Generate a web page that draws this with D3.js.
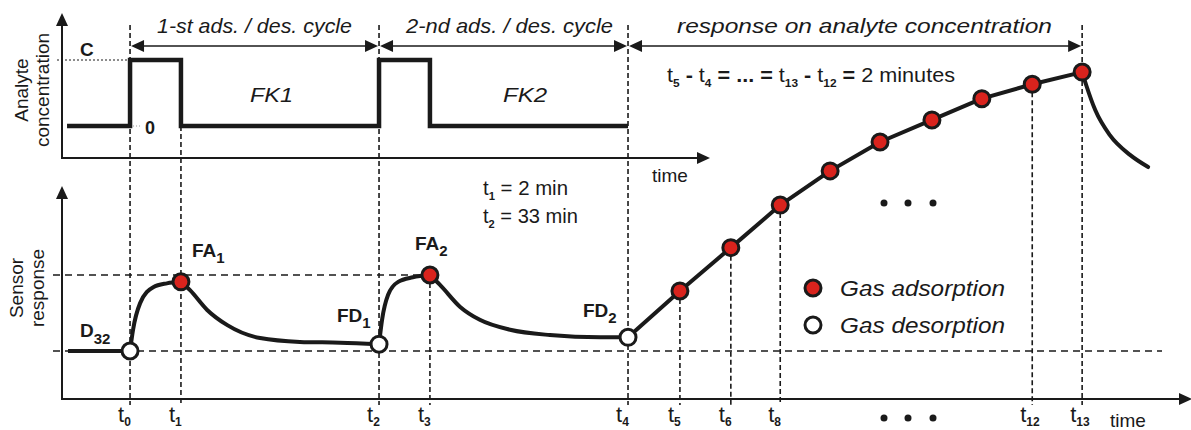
<!DOCTYPE html>
<html><head><meta charset="utf-8">
<script src="https://cdn.jsdelivr.net/npm/d3@7"></script>
<style>body{margin:0;background:#fff}svg{display:block;font-family:"Liberation Sans",Arial,sans-serif}</style>
</head><body>
<script>
// ---------- data (schematic units) ----------
const tickLabels = ["0","1","2","3","4","5","6","8","12","13"];
const tickTimes  = [0, 1.01, 4.94, 5.95, 9.88, 10.91, 11.92, 12.9, 17.9, 18.89];
const fullGuides = ["0","2","4","13"];

const concTimes  = [-1.25, 0, 1.01, 4.94, 5.95, 9.88];
const concValues = [0, 1, 0, 1, 0, 0];

const baseTimes = [-1.23, 0];
const baseValues = [0, 0];
const rise1Times  = [0, 0.06, 0.20, 0.46, 0.73, 1.01];
const rise1Values = [0, 0.28, 0.63, 0.84, 0.89, 0.91];
const decay1Times  = [1.01, 1.19, 1.53, 1.93, 2.58, 3.37, 4.17, 4.94];
const decay1Values = [0.91, 0.80, 0.54, 0.34, 0.17, 0.12, 0.11, 0.09];
const rise2Times  = [4.94, 5.0, 5.12, 5.32, 5.61, 5.95];
const rise2Values = [0.09, 0.41, 0.74, 0.91, 0.97, 1.0];
const decay2Times  = [5.95, 6.15, 6.55, 6.94, 7.54, 8.33, 9.33, 9.88];
const decay2Values = [1.0, 0.87, 0.58, 0.41, 0.28, 0.21, 0.18, 0.18];
const stepTimes  = [9.88, 10.91, 11.92, 12.9, 13.89, 14.88, 15.91, 16.9, 17.9, 18.89];
const stepValues = [0.18, 0.79, 1.36, 1.92, 2.37, 2.75, 3.04, 3.32, 3.51, 3.67];
const recoveryTimes  = [18.89, 18.97, 19.15, 19.44, 19.84, 20.2];
const recoveryValues = [3.67, 3.5, 3.17, 2.84, 2.58, 2.42];

const desorbTimes  = [0, 4.94, 9.88];
const desorbValues = [0, 0.09, 0.18];
const adsorbTimes  = [1.01, 5.95].concat(stepTimes.slice(1));
const adsorbValues = [0.91, 1.0].concat(stepValues.slice(1));

const cycleLabels = ["1-st ads. / des. cycle", "2-nd ads. / des. cycle", "response on analyte concentration"];
const cycleFrom = [0, 4.94, 9.88];
const cycleTo   = [4.94, 9.88, 18.89];
const legendLabels = ["Gas adsorption", "Gas desorption"];

// ---------- setup ----------
const W = 1191, H = 430;
const svg = d3.select("body").append("svg").attr("width", W).attr("height", H);
svg.append("rect").attr("width", W).attr("height", H).attr("fill", "#fff");

const x = d3.scaleLinear().domain([-1.35, 21.03]).range([62, 1190]);
const yTop = d3.scaleLinear().domain([0, 1]).range([126, 60]);
const yBot = d3.scaleLinear().domain([0, 1]).range([351, 275]);
const INK = "#1a1a1a";
const zip = (a, b) => a.map((v, i) => [v, b[i]]);

// ---------- guides ----------
const gGuide = svg.append("g");
function guideTop(lab, t) {
  if (fullGuides.includes(lab)) return 25;
  if (lab === "1") return yTop(0);
  const i = adsorbTimes.indexOf(t);
  return i >= 0 ? yBot(adsorbValues[i]) : yBot(0);
}
tickLabels.forEach((lab, i) => {
  gGuide.append("line")
    .attr("x1", x(tickTimes[i])).attr("x2", x(tickTimes[i]))
    .attr("y1", guideTop(lab, tickTimes[i])).attr("y2", 405)
    .attr("stroke", INK).attr("stroke-width", 1.6).attr("stroke-dasharray", "5,3");
});
// horizontal dashed
gGuide.append("line").attr("x1", 53).attr("x2", x(5.95)).attr("y1", yBot(1)).attr("y2", yBot(1))
  .attr("stroke", INK).attr("stroke-width", 1.6).attr("stroke-dasharray", "7,5");
gGuide.append("line").attr("x1", 53).attr("x2", 1162).attr("y1", yBot(0)).attr("y2", yBot(0))
  .attr("stroke", INK).attr("stroke-width", 1.6).attr("stroke-dasharray", "7,5");
// C dotted
gGuide.append("line").attr("x1", 57).attr("x2", x(0)).attr("y1", yTop(1)).attr("y2", yTop(1))
  .attr("stroke", INK).attr("stroke-width", 1).attr("stroke-dasharray", "2,2");
gGuide.append("line").attr("x1", x(0) + 3).attr("x2", x(0) + 10).attr("y1", yTop(0)).attr("y2", yTop(0))
  .attr("stroke", "#999").attr("stroke-width", 1).attr("stroke-dasharray", "1,2");

// ---------- axes ----------
const gAx = svg.append("g").attr("fill", INK).attr("stroke", INK);
function axisArrow(x1, y1, x2, y2) {
  const dx = x2 - x1, dy = y2 - y1, L = Math.hypot(dx, dy), ux = dx / L, uy = dy / L;
  const len = 13, hw = 6;
  const bx = x2 - ux * len, by = y2 - uy * len;
  gAx.append("line").attr("x1", x1).attr("y1", y1).attr("x2", bx + ux).attr("y2", by + uy).attr("stroke-width", 2);
  gAx.append("path").attr("stroke", "none")
    .attr("d", `M${x2},${y2}L${bx - uy * hw},${by + ux * hw}L${bx + uy * hw},${by - ux * hw}Z`);
}
axisArrow(62, 159, 62, 13);
axisArrow(61, 158, 710, 158);
axisArrow(62, 400, 62, 186);
axisArrow(61, 399, 1192, 399);

// ---------- header arrows ----------
const gHead = svg.append("g");
function dblArrow(xa, xb, y) {
  const len = 13, hw = 6;
  gHead.append("line").attr("x1", xa + len - 1).attr("x2", xb - len + 1).attr("y1", y).attr("y2", y)
    .attr("stroke", INK).attr("stroke-width", 1.6);
  gHead.append("path").attr("fill", INK)
    .attr("d", `M${xa},${y}L${xa + len},${y - hw}L${xa + len},${y + hw}Z M${xb},${y}L${xb - len},${y - hw}L${xb - len},${y + hw}Z`);
}
const headX = [157, 406, 677], headLen = [195, 207, 375];
cycleLabels.forEach((lab, i) => {
  dblArrow(x(cycleFrom[i]) + 1, x(cycleTo[i]) - 1, 46);
  gHead.append("text").attr("x", headX[i]).attr("y", 33)
    .attr("font-size", 21).attr("font-style", "italic").attr("fill", INK)
    .attr("textLength", headLen[i]).attr("lengthAdjust", "spacingAndGlyphs").text(lab);
});

// ---------- concentration signal ----------
svg.append("path")
  .attr("d", d3.line().x(d => x(d[0])).y(d => yTop(d[1])).curve(d3.curveStepAfter)(zip(concTimes, concValues)))
  .attr("fill", "none").attr("stroke", INK).attr("stroke-width", 4.5).attr("stroke-linejoin", "miter");

// ---------- sensor response ----------
const lineSmooth = d3.line().x(d => x(d[0])).y(d => yBot(d[1])).curve(d3.curveMonotoneX);
const lineStraight = d3.line().x(d => x(d[0])).y(d => yBot(d[1]));
const gCurve = svg.append("g").attr("fill", "none").attr("stroke", INK).attr("stroke-width", 4)
  .attr("stroke-linejoin", "round").attr("stroke-linecap", "round");
gCurve.append("path").attr("d", lineStraight(zip(baseTimes, baseValues))).attr("stroke-linecap", "butt");
[[rise1Times, rise1Values], [decay1Times, decay1Values], [rise2Times, rise2Values],
 [decay2Times, decay2Values], [recoveryTimes, recoveryValues]].forEach(([t, v]) => {
  gCurve.append("path").attr("d", lineSmooth(zip(t, v)));
});
gCurve.append("path").attr("d", lineStraight(zip(stepTimes, stepValues)));

// points
svg.append("g").selectAll("circle").data(zip(adsorbTimes, adsorbValues)).join("circle")
  .attr("cx", d => x(d[0])).attr("cy", d => yBot(d[1])).attr("r", 8)
  .attr("fill", "#d9231d").attr("stroke", INK).attr("stroke-width", 3);
svg.append("g").selectAll("circle").data(zip(desorbTimes, desorbValues)).join("circle")
  .attr("cx", d => x(d[0])).attr("cy", d => yBot(d[1])).attr("r", 8)
  .attr("fill", "#fff").attr("stroke", INK).attr("stroke-width", 3);

// ---------- texts ----------
const gT = svg.append("g").attr("fill", INK);
function subText(xp, yp, main, sub, size, subSize, bold, dy) {
  const t = gT.append("text").attr("x", xp).attr("y", yp).attr("font-size", size)
    .attr("font-weight", bold ? "bold" : "normal");
  t.append("tspan").text(main);
  t.append("tspan").attr("font-size", subSize).attr("font-weight", "bold").attr("dy", dy).text(sub);
  return t;
}
// tick labels
tickLabels.forEach((lab, i) => {
  subText(x(tickTimes[i]) - 12, 422, "t", lab, 22, 12, false, 4);
});
gT.append("text").attr("x", 1110).attr("y", 427).attr("font-size", 19).text("time");
gT.append("text").attr("x", 652).attr("y", 182).attr("font-size", 19).text("time");

// y-axis titles
[["Analyte", 28], ["concentration", 49]].forEach(([s, xx]) => {
  gT.append("text").attr("transform", `translate(${xx},90) rotate(-90)`).attr("text-anchor", "middle")
    .attr("font-size", 19).text(s);
});
[["Sensor", 23], ["response", 44]].forEach(([s, xx]) => {
  gT.append("text").attr("transform", `translate(${xx},288) rotate(-90)`).attr("text-anchor", "middle")
    .attr("font-size", 19).text(s);
});

// C / 0
gT.append("text").attr("x", 80).attr("y", 56).attr("font-size", 19).attr("font-weight", "bold").text("C");
gT.append("text").attr("x", 145).attr("y", 134).attr("font-size", 18).attr("font-weight", "bold").text("0");

// FK labels
gT.append("text").attr("x", 250).attr("y", 102).attr("font-size", 21).attr("font-style", "italic")
  .attr("textLength", 43).attr("lengthAdjust", "spacingAndGlyphs").text("FK1");
gT.append("text").attr("x", 503).attr("y", 102).attr("font-size", 21).attr("font-style", "italic")
  .attr("textLength", 44).attr("lengthAdjust", "spacingAndGlyphs").text("FK2");

// point labels
subText(192, 257, "FA", "1", 19, 15, true, 6);
subText(415, 250, "FA", "2", 19, 15, true, 6);
subText(337, 322, "FD", "1", 19, 15, true, 6);
subText(583, 317, "FD", "2", 19, 15, true, 6);
subText(80, 337, "D", "32", 19, 15, true, 7);

// equations
function eqLine(xp, yp, parts, len) {
  const t = gT.append("text").attr("x", xp).attr("y", yp).attr("font-size", 20);
  if (len) t.attr("textLength", len).attr("lengthAdjust", "spacingAndGlyphs");
  let shifted = 0;
  parts.forEach(p => {
    const ts = t.append("tspan").text(p.s);
    if (p.sub) { ts.attr("font-size", 11).attr("font-weight", "bold").attr("dy", 5 - shifted); shifted = 5; }
    else { if (shifted) { ts.attr("dy", -shifted); shifted = 0; } }
    if (p.b) ts.attr("font-weight", "bold");
  });
}
eqLine(667, 82, [{s:"t"},{s:"5",sub:1},{s:" - ",b:1},{s:"t"},{s:"4",sub:1},{s:" = ... = ",b:1},
  {s:"t"},{s:"13",sub:1},{s:" - ",b:1},{s:"t"},{s:"12",sub:1},{s:" =  ",b:1},{s:"2 minutes"}], 288);
eqLine(483, 195, [{s:"t"},{s:"1",sub:1},{s:" = 2 min"}], 85);
eqLine(483, 223, [{s:"t"},{s:"2",sub:1},{s:" = 33 min"}], 95);

// ellipsis dots
[884, 908, 933].forEach(cx => {
  [203, 418].forEach(cy => svg.append("circle").attr("cx", cx).attr("cy", cy).attr("r", 3.5).attr("fill", INK));
});

// legend
const gL = svg.append("g");
legendLabels.forEach((lab, i) => {
  const cy = 288 + i * 37;
  gL.append("circle").attr("cx", 813).attr("cy", cy).attr("r", 8)
    .attr("fill", i === 0 ? "#d9231d" : "#fff").attr("stroke", INK).attr("stroke-width", 3);
  gL.append("text").attr("x", 840).attr("y", cy + 8).attr("font-size", 22).attr("font-style", "italic")
    .attr("fill", INK).attr("textLength", 165).attr("lengthAdjust", "spacingAndGlyphs").text(lab);
});
</script>
</body></html>
